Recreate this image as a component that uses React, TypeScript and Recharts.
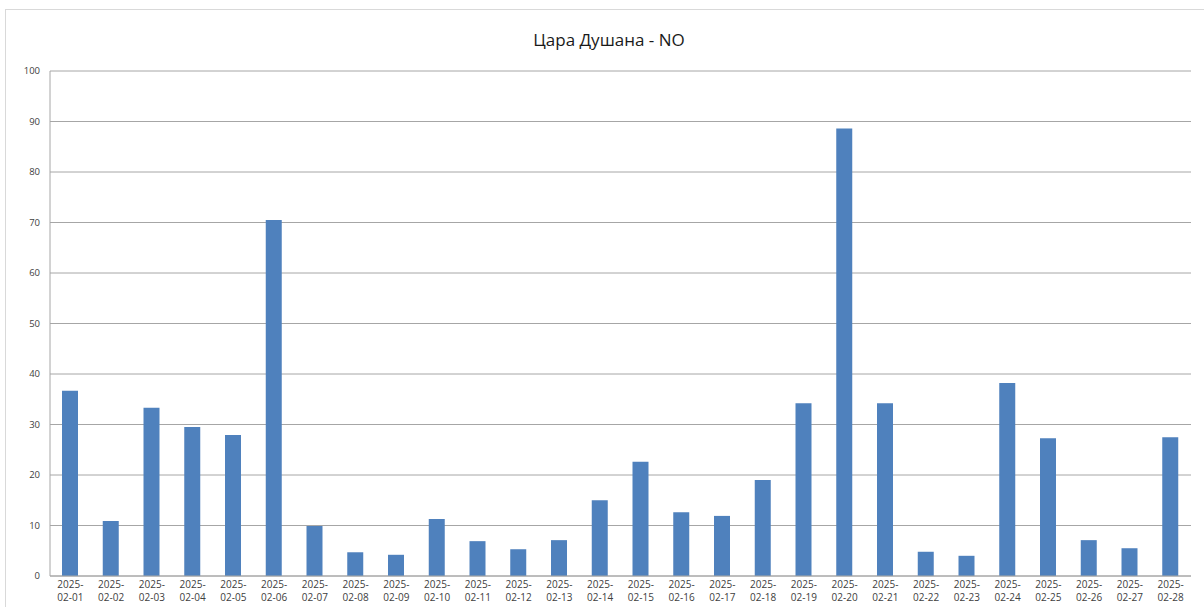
import { Bar, BarChart, CartesianGrid, XAxis, YAxis } from 'recharts';

const days = [
  '2025-02-01', '2025-02-02', '2025-02-03', '2025-02-04', '2025-02-05', '2025-02-06', '2025-02-07',
  '2025-02-08', '2025-02-09', '2025-02-10', '2025-02-11', '2025-02-12', '2025-02-13', '2025-02-14',
  '2025-02-15', '2025-02-16', '2025-02-17', '2025-02-18', '2025-02-19', '2025-02-20', '2025-02-21',
  '2025-02-22', '2025-02-23', '2025-02-24', '2025-02-25', '2025-02-26', '2025-02-27', '2025-02-28',
];

const counts = [
  36.7, 10.9, 33.3, 29.5, 27.9, 70.5, 9.9,
  4.7, 4.2, 11.3, 6.9, 5.3, 7.1, 15.0,
  22.6, 12.6, 11.9, 19.0, 34.2, 88.6, 34.2,
  4.8, 4.0, 38.2, 27.3, 7.1, 5.5, 27.5,
];

const yTicks = [0, 10, 20, 30, 40, 50, 60, 70, 80, 90, 100];

const title = 'Цара Душана - NO';

const data = days.map((day, i) => ({ day, value: counts[i] }));

const fontFamily = '"Open Sans", "Noto Sans", sans-serif';

// two-line date label: "2025-" over "02-01"
const DayTick = ({ x, y, payload }: { x?: number; y?: number; payload?: { value: string } }) => {
  const label = payload?.value ?? '';
  const year = label.slice(0, 5);
  const rest = label.slice(5);
  return (
    <g transform={`translate(${x},${y})`}>
      <text x={0} y={4} textAnchor="middle" fill="#404040" fontSize={10} fontFamily={fontFamily}>
        {year}
      </text>
      <text x={0} y={16.5} textAnchor="middle" fill="#404040" fontSize={10} fontFamily={fontFamily}>
        {rest}
      </text>
    </g>
  );
};

export default function App() {
  return (
    <div style={{ position: 'absolute', left: 0, top: 0, width: 1204, height: 607, background: '#fff', overflow: 'hidden' }}>
      <div
        style={{
          position: 'absolute',
          left: 5,
          top: 9,
          width: 1210,
          height: 620,
          border: '1px solid #d9d9d9',
        }}
      />
      <div
        style={{
          position: 'absolute',
          left: 0,
          top: 28,
          width: 1218,
          textAlign: 'center',
          fontFamily,
          fontSize: 17,
          color: '#1a1a1a',
        }}
      >
        {title}
      </div>
      <div style={{ position: 'absolute', left: 0, top: 0 }}>
        <BarChart
          width={1204}
          height={607}
          data={data}
          margin={{ top: 71, right: 13, left: 0, bottom: 0 }}
          barCategoryGap="30%"
        >
          <CartesianGrid vertical={false} stroke="#a6a6a6" strokeWidth={1} />
          <XAxis
            dataKey="day"
            interval={0}
            height={31}
            axisLine={{ stroke: '#a6a6a6' }}
            tickLine={false}
            tick={<DayTick />}
          />
          <YAxis
            domain={[0, 100]}
            ticks={yTicks}
            width={50}
            axisLine={{ stroke: '#a6a6a6' }}
            tickLine={false}
            tickMargin={4}
            tick={{ fill: '#404040', fontSize: 9.5, fontFamily }}
          />
          <Bar dataKey="value" fill="#4f81bd" isAnimationActive={false} barSize={16} />
        </BarChart>
      </div>
    </div>
  );
}
